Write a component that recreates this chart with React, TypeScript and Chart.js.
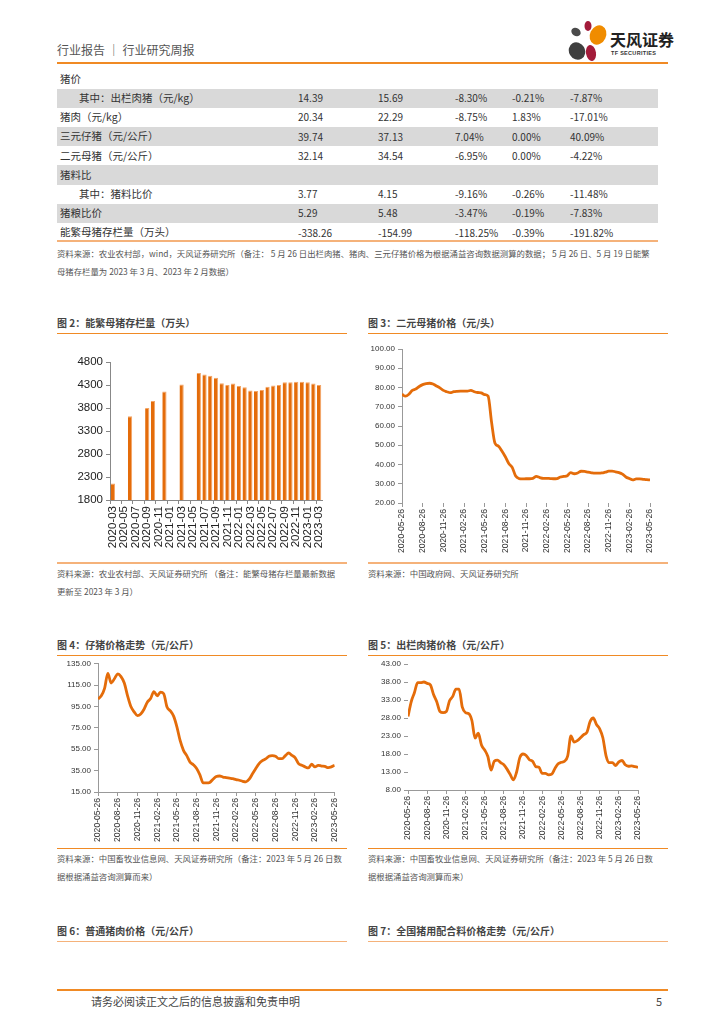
import React, { useEffect, useRef } from 'react';
import { Chart, registerables } from 'chart.js';

Chart.register(...registerables);
Chart.defaults.font.family = '"Liberation Sans", Arial, sans-serif';

// ---------- DATA ----------
const TABLE_NAMES = ['猪价', '其中：出栏肉猪（元/kg）', '猪肉（元/kg）', '三元仔猪（元/公斤）', '二元母猪（元/公斤）', '猪料比', '其中：猪料比价', '猪粮比价', '能繁母猪存栏量（万头）'];
const TABLE_INDENT = [false, true, false, false, false, false, true, false, false];
const TABLE_SHADED = [false, true, false, true, false, true, false, true, false];
const TABLE_THIS_WEEK = ['', '14.39', '20.34', '39.74', '32.14', '', '3.77', '5.29', '-338.26'];
const TABLE_LAST_WEEK = ['', '15.69', '22.29', '37.13', '34.54', '', '4.15', '5.48', '-154.99'];
const TABLE_WOW = ['', '-8.30%', '-8.75%', '7.04%', '-6.95%', '', '-9.16%', '-3.47%', '-118.25%'];
const TABLE_COL5 = ['', '-0.21%', '1.83%', '0.00%', '0.00%', '', '-0.26%', '-0.19%', '-0.39%'];
const TABLE_COL6 = ['', '-7.87%', '-17.01%', '40.09%', '-4.22%', '', '-11.48%', '-7.83%', '-191.82%'];

const SOW_MONTHS = [
  '2020-03', '2020-04', '2020-05', '2020-06', '2020-07', '2020-08', '2020-09', '2020-10', '2020-11', '2020-12',
  '2021-01', '2021-02', '2021-03', '2021-04', '2021-05', '2021-06', '2021-07', '2021-08', '2021-09', '2021-10',
  '2021-11', '2021-12', '2022-01', '2022-02', '2022-03', '2022-04', '2022-05', '2022-06', '2022-07', '2022-08',
  '2022-09', '2022-10', '2022-11', '2022-12', '2023-01', '2023-02', '2023-03',
];
const SOW_STOCK = [
  2160, null, null, 3620, null, null, 3800, 3950, null, 4160,
  null, null, 4310, null, null, 4560, 4530, 4500, 4460, 4340,
  4300, 4330, 4280, 4250, 4180, 4170, 4190, 4260, 4290, 4300,
  4360, 4360, 4370, 4370, 4360, 4330, 4300,
];

const DATE_TICKS = [
  '2020-05-26', '2020-08-26', '2020-11-26', '2021-02-26', '2021-05-26', '2021-08-26', '2021-11-26',
  '2022-02-26', '2022-05-26', '2022-08-26', '2022-11-26', '2023-02-26', '2023-05-26',
];
const POINTS_PER_TICK = 6;

const BINARY_SOW_PRICE = [
  76.5, 75.5, 76.5, 78.5, 79.2, 80.5, 81.5,
  82.0, 82.2, 81.8, 80.8, 79.8, 78.5,
  77.8, 77.3, 77.8, 78.0, 78.1, 78.1,
  78.1, 78.5, 77.8, 77.4, 77.2, 76.3,
  75.5, 62.0, 51.0, 49.5, 47.0, 44.0,
  40.5, 38.5, 34.0, 32.7, 32.5, 32.6,
  32.6, 32.8, 33.8, 33.2, 32.8, 32.8,
  32.7, 32.6, 32.7, 33.5, 33.8, 34.2,
  35.8, 35.2, 35.6, 36.5, 36.4, 36.0,
  35.7, 35.5, 35.5, 35.6, 36.0, 36.5,
  36.6, 36.2, 35.8, 35.0, 33.5, 32.7,
  32.0, 32.5, 32.5, 32.3, 32.1, 32.0,
];

const PIGLET_PRICE = [
  102, 105, 112, 126, 117, 121, 125.5,
  123, 117, 105, 95, 90, 86.5,
  88, 92.5, 99, 102.5, 109, 105,
  108.5, 107, 94.5, 91, 86, 76,
  63, 54, 49, 43, 40.5, 37,
  31, 23.5, 23.5, 24, 27, 29.5,
  30, 29, 28.5, 28, 27.5, 26.5,
  26, 25, 24.5, 27, 32, 37,
  41.5, 44.3, 46, 48.5, 49, 48.5,
  46.2, 46.2, 49, 51.5, 49.3, 47,
  41.5, 40, 38.5, 37.5, 41, 38.5,
  40, 39.3, 39, 37.8, 38.5, 40,
];

const HOG_PRICE = [
  28.4, 32.5, 35, 37.8, 37.8, 38, 37.6,
  37.2, 34.5, 32.5, 29.8, 29.5, 29.8,
  32.8, 34, 36, 36, 31, 29.5,
  29.2, 27.3, 22.4, 23.8, 20.5, 19.1,
  17.3, 13.5, 16, 16.3, 15.6, 15,
  13.8, 12.3, 10.8, 13, 17, 18,
  17.6, 16.4, 16, 14.5, 14.3, 12.6,
  12.6, 12.2, 12.4, 14, 15.3, 15.7,
  16, 17.5, 23, 21.3, 21.7, 22.5,
  23.4, 24, 27, 28, 26.2, 25,
  22.5, 17.5, 15.6, 15.6, 14.8, 15.8,
  16.2, 15, 14.6, 14.7, 14.5, 14.3,
];

// ---------- STYLE ----------
const ORANGE_LINE = '#F08A24';
const LIGHT_ORANGE = '#F5B27A';
const SERIES = '#E46C0A';
const CJK = '"Noto Sans CJK SC", "Noto Sans", sans-serif';

function Txt({ x, y, size = 10, color = '#333', bold = false, children }: any) {
  return (
    <div style={{ position: 'absolute', left: x, top: y - size / 2 - 1, fontSize: size, lineHeight: `${size + 2}px`, color, fontWeight: bold ? 700 : 400, whiteSpace: 'pre', fontFamily: CJK }}>
      {children}
    </div>
  );
}

function HLine({ x1, x2, y, color = ORANGE_LINE, w = 1 }: any) {
  return <div style={{ position: 'absolute', left: x1, top: y, width: x2 - x1, height: w, background: color }} />;
}

function ChartBox({ left, top, width, height, config }: any) {
  const ref = useRef<HTMLCanvasElement | null>(null);
  useEffect(() => {
    const chart = new Chart(ref.current as HTMLCanvasElement, config);
    return () => chart.destroy();
  }, []);
  return (
    <div style={{ position: 'absolute', left, top, width, height }}>
      <canvas ref={ref} width={width} height={height} style={{ display: 'block' }} />
    </div>
  );
}

function lineConfig(values: number[], ymin: number, ymax: number, step: number, yw: number, xh: number, padTop: number, padRight: number, yBorder: boolean, xBorder: boolean) {
  const maxX = (DATE_TICKS.length - 1) * POINTS_PER_TICK;
  return {
    type: 'line',
    data: {
      datasets: [{
        data: values.map((v, i) => ({ x: i, y: v })),
        borderColor: SERIES,
        borderWidth: 2.8,
        pointRadius: 0,
        cubicInterpolationMode: 'monotone',
      }],
    },
    options: {
      responsive: false,
      animation: false,
      devicePixelRatio: 1,
      layout: { padding: { top: padTop, right: padRight, left: 0, bottom: 0 } },
      plugins: { legend: { display: false }, tooltip: { enabled: false } },
      scales: {
        x: {
          type: 'linear',
          min: 0,
          max: maxX,
          ticks: {
            stepSize: POINTS_PER_TICK,
            autoSkip: false,
            maxRotation: 90,
            minRotation: 90,
            font: { size: 8.6 },
            color: '#333',
            padding: 2,
            callback: (v: number) => {
              const k = Math.round(v / POINTS_PER_TICK);
              return Math.abs(v - k * POINTS_PER_TICK) < 1e-6 ? DATE_TICKS[k] : '';
            },
          },
          grid: { drawOnChartArea: false, tickLength: 4, color: '#999' },
          border: { display: xBorder, color: '#999' },
          afterFit: (s: any) => { s.height = xh; },
        },
        y: {
          min: ymin,
          max: ymax,
          ticks: { stepSize: step, font: { size: 8 }, color: '#333', padding: 3, callback: (v: number) => Number(v).toFixed(2) },
          grid: { drawOnChartArea: false, tickLength: 4, color: '#999' },
          border: { display: yBorder, color: '#999' },
          afterFit: (s: any) => { s.width = yw; },
        },
      },
    },
  };
}

const barConfig = {
  type: 'bar',
  data: {
    labels: SOW_MONTHS,
    datasets: [{
      data: SOW_STOCK,
      backgroundColor: SERIES,
      borderColor: '#F3A566',
      borderWidth: { right: 1, top: 1, left: 0, bottom: 0 },
      barPercentage: 0.74,
      categoryPercentage: 1,
    }],
  },
  options: {
    responsive: false,
    animation: false,
    devicePixelRatio: 1,
    layout: { padding: { top: 22, right: 25, left: 0, bottom: 0 } },
    plugins: { legend: { display: false }, tooltip: { enabled: false } },
    scales: {
      x: {
        ticks: {
          autoSkip: false,
          maxRotation: 90,
          minRotation: 90,
          font: { size: 11.5 },
          color: '#222',
          padding: 2,
          callback: (_v: any, i: number) => (i % 2 === 0 ? SOW_MONTHS[i] : ''),
        },
        grid: { drawOnChartArea: false, tickLength: 4, color: (ctx: any) => (ctx.index % 2 === 0 ? '#888' : 'rgba(0,0,0,0)') },
        border: { color: '#888' },
        afterFit: (s: any) => { s.height = 62; },
      },
      y: {
        min: 1800,
        max: 4800,
        ticks: { stepSize: 500, font: { size: 11.5 }, color: '#222', padding: 3, callback: (v: number) => String(v) },
        grid: { drawOnChartArea: false, tickLength: 4, color: '#888' },
        border: { color: '#888' },
        afterFit: (s: any) => { s.width = 53; },
      },
    },
  },
};

function Logo() {
  return (
    <div style={{ position: 'absolute', left: 566, top: 20 }}>
      <svg width={44} height={44} viewBox="0 0 44 44">
        <ellipse cx={10} cy={12} rx={5} ry={4} fill="#4A4A4A" transform="rotate(35 10 12)" />
        <ellipse cx={22} cy={6} rx={3.5} ry={5} fill="#A31B3A" />
        <ellipse cx={32} cy={15} rx={8} ry={10} fill="#F08C00" transform="rotate(25 32 15)" />
        <ellipse cx={11} cy={31} rx={8} ry={9} fill="#3F3F3F" transform="rotate(-30 11 31)" />
        <ellipse cx={25} cy={33} rx={5} ry={8} fill="#A31B3A" transform="rotate(-10 25 33)" />
      </svg>
      <div style={{ position: 'absolute', left: 44, top: 10, fontSize: 16, fontWeight: 700, color: '#222', fontFamily: CJK, whiteSpace: 'nowrap', lineHeight: '18px' }}>天风证券</div>
      <div style={{ position: 'absolute', left: 45, top: 30, fontSize: 5.5, fontWeight: 700, color: '#333', fontFamily: '"Liberation Sans", sans-serif', whiteSpace: 'nowrap', letterSpacing: 0.3 }}>TF SECURITIES</div>
    </div>
  );
}

export default function App() {
  const rowY0 = 79;
  const rowH = 19.2;
  const colX = [298, 378, 455, 512, 570];
  return (
    <div style={{ position: 'absolute', left: 0, top: 0, width: 724, height: 1024, background: '#fff', overflow: 'hidden' }}>
      {/* header */}
      <Txt x={57} y={50} size={12} color="#555">行业报告 ｜ 行业研究周报</Txt>
      <Logo />
      <HLine x1={57} x2={668} y={62} w={1.5} />

      {/* table */}
      {TABLE_NAMES.map((name, i) => {
        const cy = rowY0 + i * rowH;
        const cells = [TABLE_THIS_WEEK[i], TABLE_LAST_WEEK[i], TABLE_WOW[i], TABLE_COL5[i], TABLE_COL6[i]];
        return (
          <React.Fragment key={name}>
            {TABLE_SHADED[i] && <div style={{ position: 'absolute', left: 57, top: cy - rowH / 2, width: 601, height: rowH, background: '#D9D9D9' }} />}
            <Txt x={TABLE_INDENT[i] ? 79 : 60} y={cy} size={10.5} color="#333">{name}</Txt>
            {cells.map((c, j) => (c ? <Txt key={j} x={colX[j]} y={cy} size={10} color="#333">{c}</Txt> : null))}
          </React.Fragment>
        );
      })}
      <HLine x1={57} x2={658} y={240} color={LIGHT_ORANGE} w={1.5} />
      <Txt x={57} y={253} size={8.4} color="#555">资料来源：农业农村部，wind，天风证券研究所（备注： 5 月 26 日出栏肉猪、猪肉、三元仔猪价格为根据涌益咨询数据测算的数据； 5 月 26 日、5 月 19 日能繁</Txt>
      <Txt x={57} y={271} size={8.4} color="#555">母猪存栏量为 2023 年 3 月、2023 年 2 月数据）</Txt>

      {/* figure 2 & 3 */}
      <Txt x={57} y={323} size={10} bold color="#444">图 2：能繁母猪存栏量（万头）</Txt>
      <HLine x1={57} x2={347} y={333} />
      <Txt x={368} y={323} size={10} bold color="#444">图 3：二元母猪价格（元/头）</Txt>
      <HLine x1={368} x2={668} y={333} />
      <ChartBox left={57} top={340} width={290} height={222} config={barConfig} />
      <ChartBox left={368} top={340} width={300} height={220} config={lineConfig(BINARY_SOW_PRICE, 20, 100, 10, 34, 57, 9, 18, true, false)} />
      <HLine x1={57} x2={347} y={562} color={LIGHT_ORANGE} w={1.5} />
      <HLine x1={368} x2={668} y={562} color={LIGHT_ORANGE} w={1.5} />
      <Txt x={57} y={573} size={8.4} color="#555">资料来源：农业农村部、天风证券研究所 （备注：能繁母猪存栏量最新数据</Txt>
      <Txt x={57} y={591} size={8.4} color="#555">更新至 2023 年 3 月）</Txt>
      <Txt x={368} y={573} size={8.4} color="#555">资料来源：中国政府网、天风证券研究所</Txt>

      {/* figure 4 & 5 */}
      <Txt x={57} y={645} size={10} bold color="#444">图 4：仔猪价格走势（元/公斤）</Txt>
      <HLine x1={57} x2={347} y={655} />
      <Txt x={368} y={645} size={10} bold color="#444">图 5：出栏肉猪价格（元/公斤）</Txt>
      <HLine x1={368} x2={668} y={655} />
      <ChartBox left={57} top={656} width={290} height={190} config={lineConfig(PIGLET_PRICE, 15, 135, 20, 41, 54, 7, 5, true, true)} />
      <ChartBox left={368} top={656} width={300} height={190} config={lineConfig(HOG_PRICE, 8, 43, 5, 40, 56, 8, 30, false, true)} />
      <HLine x1={57} x2={347} y={848} />
      <HLine x1={368} x2={668} y={848} />
      <Txt x={57} y={858} size={8.4} color="#555">资料来源：中国畜牧业信息网、天风证券研究所（备注：2023 年 5 月 26 日数</Txt>
      <Txt x={57} y={876} size={8.4} color="#555">据根据涌益咨询测算而来）</Txt>
      <Txt x={368} y={858} size={8.4} color="#555">资料来源：中国畜牧业信息网、天风证券研究所（备注：2023 年 5 月 26 日数</Txt>
      <Txt x={368} y={876} size={8.4} color="#555">据根据涌益咨询测算而来）</Txt>

      {/* figure 6 & 7 titles */}
      <Txt x={57} y={931} size={10} bold color="#444">图 6：普通猪肉价格（元/公斤）</Txt>
      <HLine x1={57} x2={347} y={941} color={LIGHT_ORANGE} />
      <Txt x={368} y={931} size={10} bold color="#444">图 7：全国猪用配合料价格走势（元/公斤）</Txt>
      <HLine x1={368} x2={668} y={941} color={LIGHT_ORANGE} />

      {/* footer */}
      <HLine x1={57} x2={668} y={989} w={2} />
      <Txt x={91} y={1001} size={11} color="#444">请务必阅读正文之后的信息披露和免责申明</Txt>
      <Txt x={656} y={1001} size={11} color="#444">5</Txt>
    </div>
  );
}
